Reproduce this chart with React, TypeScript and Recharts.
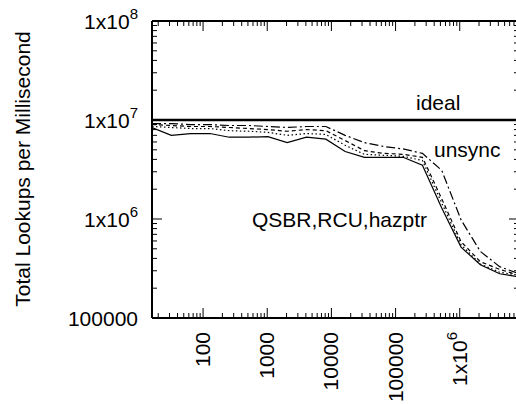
import { LineChart, Line, XAxis, YAxis } from "recharts";

// table sizes (x) and lookup rates
const sizes = [
  16, 32, 64, 128, 256, 512, 1024, 2048, 4096, 8192, 16384, 32768, 65536,
  131072, 262144, 524288, 1048576, 2097152, 4194304, 8388608,
];
const ideal = sizes.map(() => 1e7);
const unsync = [
  9.2e6, 9.2e6, 9.0e6, 9.0e6, 8.8e6, 8.8e6, 8.6e6, 8.4e6, 8.6e6, 8.6e6,
  7.0e6, 5.9e6, 5.4e6, 5.1e6, 4.6e6, 3.1e6, 9.8e5, 4.7e5, 3.3e5, 2.8e5,
];
const qsbr = [
  9.0e6, 8.8e6, 8.6e6, 8.6e6, 8.4e6, 8.2e6, 8.0e6, 7.7e6, 8.0e6, 7.8e6,
  6.2e6, 4.9e6, 4.6e6, 4.5e6, 4.2e6, 1.6e6, 5.9e5, 3.7e5, 3.1e5, 2.7e5,
];
const rcu = [
  8.6e6, 8.4e6, 8.2e6, 8.2e6, 7.8e6, 7.7e6, 7.5e6, 7.0e6, 7.3e6, 7.15e6,
  5.55e6, 4.5e6, 4.4e6, 4.3e6, 3.9e6, 1.45e6, 5.5e5, 3.5e5, 2.9e5, 2.7e5,
];
const hazptr = [
  8.4e6, 7.0e6, 7.3e6, 7.3e6, 6.7e6, 6.7e6, 6.8e6, 5.9e6, 6.7e6, 6.4e6,
  4.8e6, 4.2e6, 4.2e6, 4.2e6, 3.5e6, 1.29e6, 5.2e5, 3.45e5, 2.8e5, 2.6e5,
];

const xTicks = [
  20, 30, 40, 50, 60, 70, 80, 90,
  100, 200, 300, 400, 500, 600, 700, 800, 900,
  1000, 2000, 3000, 4000, 5000, 6000, 7000, 8000, 9000,
  10000, 20000, 30000, 40000, 50000, 60000, 70000, 80000, 90000,
  100000, 200000, 300000, 400000, 500000, 600000, 700000, 800000, 900000,
  1000000, 2000000, 3000000, 4000000, 5000000, 6000000, 7000000, 8000000,
];
const yTicks = [
  100000, 200000, 300000, 400000, 500000, 600000, 700000, 800000, 900000,
  1000000, 2000000, 3000000, 4000000, 5000000, 6000000, 7000000, 8000000, 9000000,
  10000000, 20000000, 30000000, 40000000, 50000000, 60000000, 70000000, 80000000, 90000000,
  100000000,
];

const data = sizes.map((s, i) => ({
  size: s,
  ideal: ideal[i],
  unsync: unsync[i],
  qsbr: qsbr[i],
  rcu: rcu[i],
  hazptr: hazptr[i],
}));

const FONT = "'Liberation Sans', Arial, Helvetica, sans-serif";

const isMajor = (v: number) => {
  const l = Math.log10(v);
  return Math.abs(l - Math.round(l)) < 1e-9;
};

// gnuplot style: plain digits up to 100000, then 1x10^n
function Label({ v, x, y, anchor, turn }: any) {
  const e = Math.round(Math.log10(v));
  const tr = turn ? `rotate(-90, ${x}, ${y})` : undefined;
  return (
    <text x={x} y={y} textAnchor={anchor} fontSize={21} fontFamily={FONT} fill="#000" transform={tr}>
      {e <= 5 ? String(v) : "1x10"}
      {e > 5 && <tspan dy={-10} fontSize={15}>{e}</tspan>}
    </text>
  );
}

const pos = (p: any, horiz: boolean) =>
  p.payload && typeof p.payload.coordinate === "number" ? p.payload.coordinate : horiz ? p.x : p.y;

const LeftTick = (p: any) => {
  const major = isMajor(p.payload.value);
  const y = pos(p, false);
  return (
    <g>
      <line x1={p.x} y1={y} x2={p.x + (major ? 10 : 5)} y2={y} stroke="#000" />
      {major && <Label v={p.payload.value} x={p.x - 14} y={y + 8} anchor="end" />}
    </g>
  );
};

const RightTick = (p: any) => {
  const major = isMajor(p.payload.value);
  const y = pos(p, false);
  return <line x1={p.x} y1={y} x2={p.x - (major ? 10 : 5)} y2={y} stroke="#000" />;
};

const BottomTick = (p: any) => {
  const major = isMajor(p.payload.value);
  const x = pos(p, true);
  return (
    <g>
      <line x1={x} y1={p.y} x2={x} y2={p.y - (major ? 10 : 5)} stroke="#000" />
      {major && <Label v={p.payload.value} x={x + 7} y={p.y + 14} anchor="end" turn />}
    </g>
  );
};

const TopTick = (p: any) => {
  const major = isMajor(p.payload.value);
  const x = pos(p, true);
  return <line x1={x} y1={p.y} x2={x} y2={p.y + (major ? 10 : 5)} stroke="#000" />;
};

export default function App() {
  return (
    <div style={{ position: "fixed", left: 0, top: 0, width: 516, height: 404, overflow: "hidden", background: "#fff" }}>
      <LineChart width={530} height={404} data={data} margin={{ top: 20, right: 10, bottom: 0, left: 0 }}>
        <XAxis
          dataKey="size"
          type="number"
          scale="log"
          domain={[16, 8388608]}
          allowDataOverflow
          ticks={xTicks}
          interval={0}
          height={86}
          tickSize={0}
          tickMargin={0}
          tickLine={false}
          axisLine={{ stroke: "#000", strokeWidth: 2 }}
          tick={BottomTick}
        />
        <XAxis
          xAxisId="top"
          orientation="top"
          dataKey="size"
          type="number"
          scale="log"
          domain={[16, 8388608]}
          allowDataOverflow
          ticks={xTicks}
          interval={0}
          height={1}
          tickSize={0}
          tickMargin={0}
          tickLine={false}
          axisLine={{ stroke: "#000", strokeWidth: 2 }}
          tick={TopTick}
        />
        <YAxis
          type="number"
          scale="log"
          domain={[100000, 100000000]}
          allowDataOverflow
          ticks={yTicks}
          interval={0}
          width={152}
          tickSize={0}
          tickMargin={0}
          tickLine={false}
          axisLine={{ stroke: "#000", strokeWidth: 2 }}
          tick={LeftTick}
        />
        <YAxis
          yAxisId="right"
          orientation="right"
          type="number"
          scale="log"
          domain={[100000, 100000000]}
          allowDataOverflow
          ticks={yTicks}
          interval={0}
          width={1}
          tickSize={0}
          tickMargin={0}
          tickLine={false}
          axisLine={{ stroke: "#000", strokeWidth: 2 }}
          tick={RightTick}
        />
        <Line xAxisId="top" yAxisId="right" dataKey="ideal" stroke="#000" strokeWidth={2.5} dot={false} isAnimationActive={false} />
        <Line dataKey="unsync" stroke="#000" strokeWidth={1.2} strokeDasharray="9 3 2 3" dot={false} isAnimationActive={false} />
        <Line dataKey="qsbr" stroke="#000" strokeWidth={1.2} strokeDasharray="4 3" dot={false} isAnimationActive={false} />
        <Line dataKey="rcu" stroke="#000" strokeWidth={1.2} strokeDasharray="1.5 2.5" dot={false} isAnimationActive={false} />
        <Line dataKey="hazptr" stroke="#000" strokeWidth={1.2} dot={false} isAnimationActive={false} />
        <text x={30} y={169} transform="rotate(-90, 30, 169)" textAnchor="middle" fontSize={21} fontFamily={FONT} fill="#000">
          Total Lookups per Millisecond
        </text>
        <text x={416} y={110} fontSize={21} fontFamily={FONT} fill="#000">ideal</text>
        <text x={434} y={157} fontSize={21} fontFamily={FONT} fill="#000">unsync</text>
        <text x={252} y={227} fontSize={21} fontFamily={FONT} fill="#000">QSBR,RCU,hazptr</text>
      </LineChart>
    </div>
  );
}
